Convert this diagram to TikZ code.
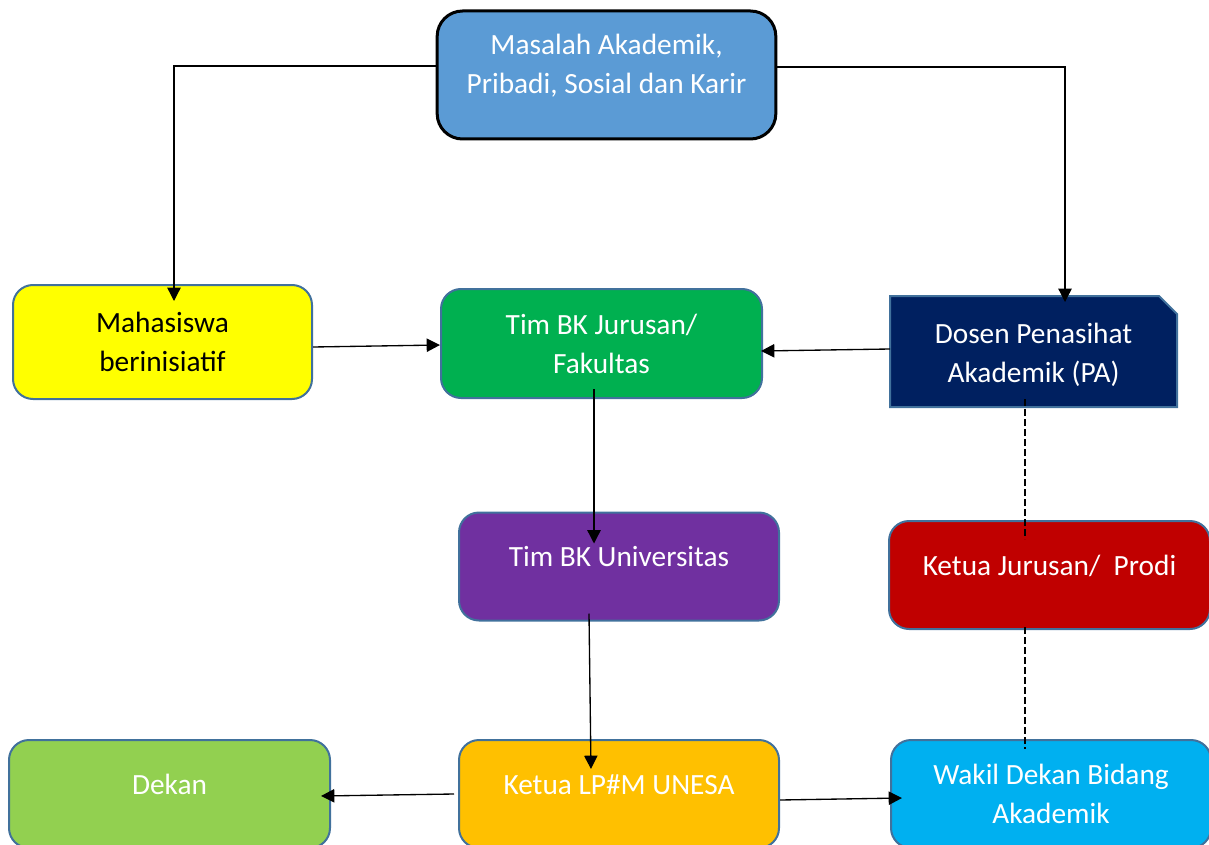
\documentclass[tikz,border=0pt]{standalone}
\usepackage{fontspec}
\setmainfont{Carlito}
\usetikzlibrary{arrows.meta,calc,backgrounds}

\definecolor{boxline}{HTML}{41719C}
\definecolor{topblue}{HTML}{5B9BD5}
\definecolor{mhsyellow}{HTML}{FFFF00}
\definecolor{bkgreen}{HTML}{00B050}
\definecolor{pagenavy}{HTML}{002060}
\definecolor{unipurple}{HTML}{7030A0}
\definecolor{prodired}{HTML}{C00000}
\definecolor{dekangreen}{HTML}{92D050}
\definecolor{lpmorange}{HTML}{FFC000}
\definecolor{wakilcyan}{HTML}{00B0F0}

\tikzset{
  box/.style={draw=boxline, line width=1.5pt, rounded corners=15pt, inner sep=0pt,
    minimum width=240pt, minimum height=81pt, text=white, align=center,
    font=\fontsize{22}{29.25}\selectfont},
  oneline/.style={text height=15pt, text depth=15pt},
  link/.style={-{Triangle[length=10pt,width=10pt]}, line width=1pt},
  guide/.style={dash pattern=on 5pt off 2.5pt, line width=1pt}
}

\begin{document}
\begin{tikzpicture}[x=0.75pt,y=-0.75pt]
  \path[use as bounding box, clip] (0,0) rectangle (1209,845);

  % Top box
  \node[box, draw=black, line width=2.25pt, rounded corners=19pt, fill=topblue,
    minimum width=254pt, minimum height=96pt, text height=44pt, text depth=15.6pt]
    (masalah) at (606.5,75) {Masalah Akademik,\\Pribadi, Sosial dan Karir};

  % Middle row
  \node[box, fill=mhsyellow, text=black, minimum width=224.25pt, minimum height=85.5pt]
    (mhs) at (162.5,342) {Mahasiswa\\berinisiatif};
  \node[box, fill=bkgreen, minimum width=240.75pt, minimum height=81.75pt]
    (timj) at (601.5,343.5) {Tim BK Jurusan/\\Fakultas};
  \node[box, draw=none, rounded corners=0pt, minimum width=213.75pt, minimum height=81.75pt,
    text height=46pt, text depth=0pt]
    (dosen) at (1033.5,351.5) {Dosen Penasihat\\Akademik (PA)};
  \begin{scope}[on background layer]
    \filldraw[fill=pagenavy, draw=boxline, line width=1.5pt]
      (dosen.south west) -- (dosen.north west) -- ($(dosen.north east)+(-18,0)$)
      -- ($(dosen.north east)+(0,18)$) -- (dosen.south east) -- cycle;
  \end{scope}

  % Lower rows
  \node[box, oneline, fill=unipurple] (timu) at (619,566.5) {Tim BK Universitas};
  \node[box, oneline, fill=prodired, minimum width=240.75pt] (kj) at (1049.5,575) {Ketua Jurusan/~ Prodi};
  \node[box, oneline, fill=dekangreen, minimum width=240.75pt] (dekan) at (169.5,794) {Dekan};
  \node[box, oneline, fill=lpmorange] (klp) at (619,794) {Ketua LP\#M UNESA};
  \node[box, fill=wakilcyan] (wakil) at (1051,794) {Wakil Dekan Bidang\\Akademik};

  % Connectors
  \draw[link] ($(masalah.west)+(0,-9)$) -| ($(mhs.north)+(11.5,17)$);
  \draw[link] ($(masalah.east)+(0,-8)$) -| ($(dosen.north)+(31.5,6)$);
  \draw[link] ($(mhs.east)+(0,5)$) -- ($(timj.west)+(0,1.5)$);
  \draw[link] ($(dosen.west)+(0,-2.5)$) -- ($(timj.east)+(-2,7.5)$);
  \draw[link] ($(timj.south)+(-7.5,-10)$) -- ($(timu.north)+(-25,32)$);
  \draw[link] ($(timu.south)+(-30,-8)$) -- ($(klp.north)+(-28,30)$);
  \draw[link] ($(klp.west)+(-4,0)$) -- ($(dekan.east)+(-10,2)$);
  \draw[link] ($(klp.east)+(0,6)$) -- ($(wakil.west)+(12,4)$);

  \draw[guide] ($(dosen.south)+(-8.5,-8)$) -- ($(kj.north)+(-24.5,19)$);
  \draw[guide] ($(kj.south)+(-24.5,-3)$) -- ($(wakil.north)+(-26,10)$);

\end{tikzpicture}
\end{document}
